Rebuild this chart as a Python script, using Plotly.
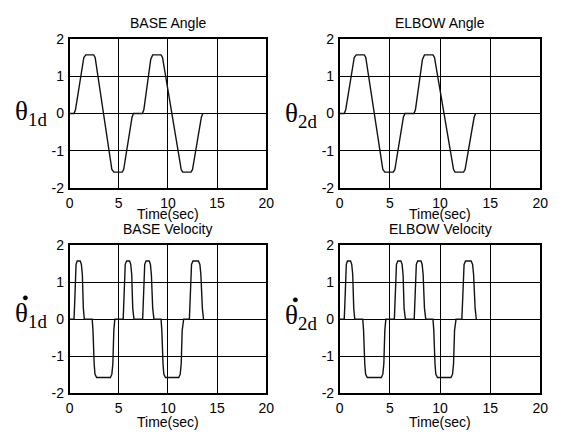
import plotly.graph_objects as go

# ---- data ----
base_angle_t = [0, 0.45, 0.6, 1.1, 1.45, 1.65, 2.45, 2.6, 3.45, 4.3, 4.5, 5.35, 5.5, 6.35, 6.5,
                7.4, 7.55, 8.0, 8.25, 8.45, 9.3, 9.45, 10.4, 11.35, 11.5, 12.35, 12.5, 13.4, 13.55]
base_angle_v = [0, 0, 0.1, 1.0, 1.5, 1.57, 1.57, 1.5, 0, -1.5, -1.57, -1.57, -1.5, -0.1, 0,
                0, 0.1, 1.0, 1.45, 1.57, 1.57, 1.5, 0, -1.5, -1.57, -1.57, -1.5, -0.1, 0]

elbow_angle_t = [0, 0.45, 0.6, 1.1, 1.45, 1.65, 2.45, 2.6, 3.45, 4.3, 4.5, 5.35, 5.5, 6.35, 6.5,
                 7.4, 7.55, 8.0, 8.25, 8.45, 9.3, 9.45, 10.4, 11.35, 11.5, 12.35, 12.5, 13.4, 13.55]
elbow_angle_v = [0, 0, 0.1, 1.0, 1.5, 1.57, 1.57, 1.5, 0, -1.5, -1.57, -1.57, -1.5, -0.1, 0,
                 0, 0.1, 1.0, 1.45, 1.57, 1.57, 1.5, 0, -1.5, -1.57, -1.57, -1.5, -0.1, 0]

base_vel_t = [0, 0.45, 0.5, 0.58, 0.66, 0.78, 1.08, 1.2, 1.3, 1.4, 1.5,
              2.3, 2.38, 2.5, 2.58, 2.75, 4.15, 4.3, 4.4, 4.5, 4.6,
              5.45, 5.5, 5.58, 5.66, 5.8, 6.1, 6.22, 6.32, 6.42, 6.55,
              7.43, 7.48, 7.56, 7.64, 7.78, 8.1, 8.22, 8.32, 8.45, 8.58,
              9.3, 9.38, 9.5, 9.58, 9.75, 11.1, 11.25, 11.35, 11.45, 11.6,
              12.18, 12.23, 12.31, 12.4, 12.55, 13.1, 13.25, 13.35, 13.5, 13.62]
base_vel_v = [0, 0, 0.3, 1.2, 1.48, 1.57, 1.57, 1.48, 1.2, 0.3, 0,
              0, -0.3, -1.2, -1.48, -1.57, -1.57, -1.48, -1.2, -0.3, 0,
              0, 0.3, 1.2, 1.48, 1.57, 1.57, 1.48, 1.2, 0.3, 0,
              0, 0.3, 1.2, 1.48, 1.57, 1.57, 1.48, 1.2, 0.3, 0,
              0, -0.3, -1.2, -1.48, -1.57, -1.57, -1.48, -1.2, -0.3, 0,
              0, 0.3, 1.2, 1.48, 1.57, 1.57, 1.48, 1.2, 0.3, 0]

elbow_vel_t = list(base_vel_t)
elbow_vel_v = list(base_vel_v)

x_ticks = [0, 5, 10, 15, 20]
x_tick_labels = ["0", "5", "10", "15", "20"]
y_ticks = [-2, -1, 0, 1, 2]
y_tick_labels = ["-2", "-1", "0", "1", "2"]

titles = ["BASE Angle", "ELBOW Angle", "BASE Velocity", "ELBOW Velocity"]
xlabel = "Time(sec)"

# ---- figure ----
W, H = 563, 440
FONT = "Liberation Sans, Arial, Helvetica, sans-serif"
SERIF = "Liberation Serif, Times New Roman, serif"

panels = [
    (base_angle_t, base_angle_v, (67, 268), (32, 187)),
    (elbow_angle_t, elbow_angle_v, (343, 548), (32, 187)),
    (base_vel_t, base_vel_v, (67, 268), (246, 400)),
    (elbow_vel_t, elbow_vel_v, (343, 548), (246, 400)),
]

fig = go.Figure()
layout = dict(width=W, height=H, margin=dict(l=0, r=0, t=0, b=0),
              paper_bgcolor="white", plot_bgcolor="white", showlegend=False,
              font=dict(family=FONT, color="black", size=14))

annotations = []
for i, (tx, vy, (x0, x1), (y0, y1)) in enumerate(panels):
    n = "" if i == 0 else str(i + 1)
    fig.add_trace(go.Scatter(x=tx, y=vy, mode="lines",
                             line=dict(color="#111111", width=1.4),
                             xaxis="x" + n, yaxis="y" + n, hoverinfo="skip"))
    axcommon = dict(showline=True, mirror=True, linecolor="black", linewidth=1.5,
                    showgrid=True, gridcolor="black", gridwidth=1.4, zeroline=False,
                    ticks="", tickfont=dict(size=14, family=FONT, color="black"))
    layout["xaxis" + n] = dict(domain=[x0 / W, x1 / W], anchor="y" + n, range=[0, 20],
                               tickvals=x_ticks, ticktext=x_tick_labels, ticklabelstandoff=1,
                               **axcommon)
    layout["yaxis" + n] = dict(domain=[1 - y1 / H, 1 - y0 / H], anchor="x" + n, range=[-2, 2],
                               tickvals=y_ticks, ticktext=y_tick_labels, ticklabelstandoff=1,
                               **axcommon)
    cx = (x0 + x1) / 2 / W
    # panel title
    ty = 16 if i < 2 else 229
    annotations.append(dict(text=titles[i], x=cx, y=1 - ty / H, xref="paper", yref="paper",
                            showarrow=False, xanchor="center", yanchor="middle",
                            font=dict(size=14, family=FONT, color="black")))
    # x-axis title
    xty = 214 if i < 2 else 430
    annotations.append(dict(text=xlabel, x=cx, y=1 - xty / H, xref="paper", yref="paper",
                            showarrow=False, xanchor="center", yanchor="middle",
                            font=dict(size=14, family=FONT, color="black")))

# y-axis symbol labels
ylabels = [("θ<sub>1d</sub>", 9, 109, False), ("θ<sub>2d</sub>", 285, 111, False),
           ("θ<sub>1d</sub>", 9, 319, True), ("θ<sub>2d</sub>", 285, 321, True)]
for txt, lx, ly, dot in ylabels:
    annotations.append(dict(text=txt, x=lx / W, y=1 - ly / H, xref="paper", yref="paper",
                            showarrow=False, xanchor="left", yanchor="middle",
                            font=dict(size=27, family=SERIF, color="black")))
    if dot:
        annotations.append(dict(text="●", x=(lx + 13) / W, y=1 - (ly - 19) / H,
                                xref="paper", yref="paper", showarrow=False,
                                xanchor="center", yanchor="middle",
                                font=dict(size=11, family=FONT, color="black")))

layout["annotations"] = annotations
fig.update_layout(**layout)
fig.write_html("out.html")
